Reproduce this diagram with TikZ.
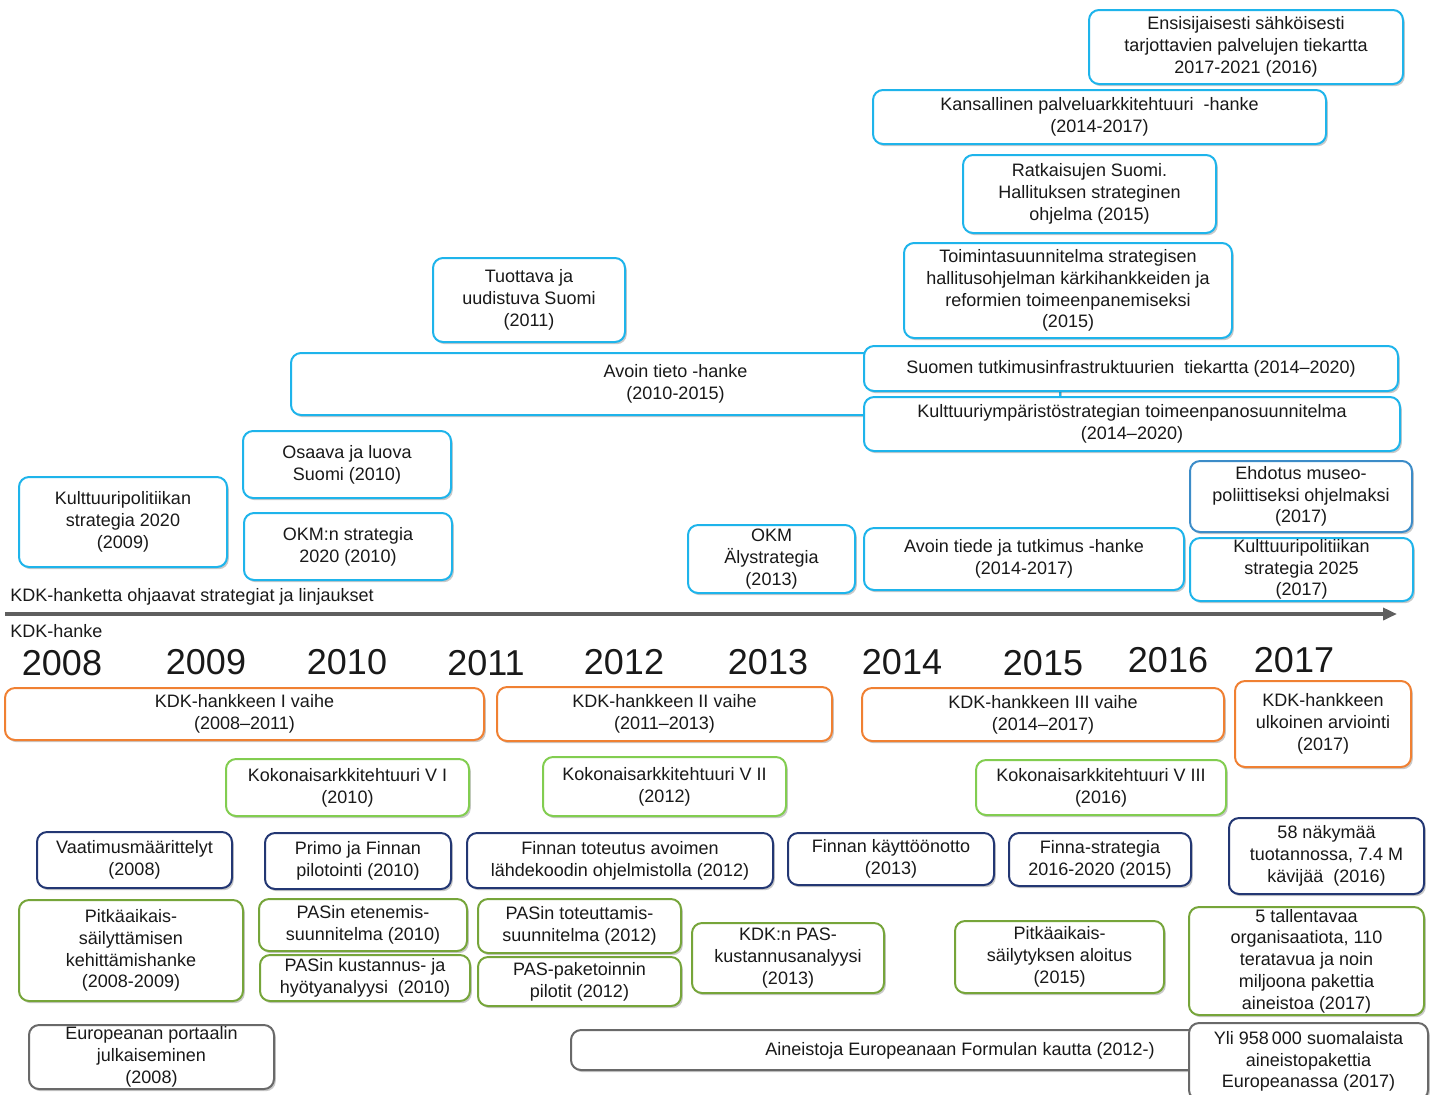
\documentclass[tikz,border=0pt]{standalone}
\usepackage{fontspec}
\setmainfont{Liberation Sans}
\usetikzlibrary{shadows,arrows.meta}
\definecolor{cyanB}{RGB}{30,180,235}
\definecolor{museoB}{RGB}{60,140,200}
\definecolor{orangeB}{RGB}{240,128,50}
\definecolor{lgreenB}{RGB}{130,205,80}
\definecolor{navyB}{RGB}{35,55,115}
\definecolor{greenB}{RGB}{118,165,58}
\definecolor{grayB}{RGB}{105,105,105}
\definecolor{txt}{RGB}{25,25,25}
\definecolor{axis}{RGB}{95,95,95}
\tikzset{
  box/.style={draw, rounded corners=5pt, line width=1pt, fill=white, inner sep=0pt,
    align=center, text=txt, font=\fontsize{9}{10.9}\selectfont,
    drop shadow={shadow xshift=0.9pt, shadow yshift=-1.1pt, fill=black!70, opacity=0.3}},
  cy/.style={draw=cyanB},
  mu/.style={draw=museoB},
  orb/.style={draw=orangeB},
  lg/.style={draw=lgreenB},
  nv/.style={draw=navyB},
  gr/.style={draw=greenB},
  gy/.style={draw=grayB},
  yr/.style={text=txt, font=\fontsize{18}{20}\selectfont, inner sep=0pt},
  lbl/.style={text=txt, font=\fontsize{9}{10.9}\selectfont, inner sep=0pt, anchor=west},
}
\newcommand\bx[7][]{\node[box,#1,minimum width={(#5-#3)*0.5pt},minimum height={(#6-#4)*0.5pt}] (#2) at ({(#3+#5)/2},{(#4+#6)/2}) {#7};}
\begin{document}
\begin{tikzpicture}[x=0.5pt,y=-0.5pt]
\useasboundingbox (0,0) rectangle (1433,1094);
% strategies (upper part)
\bx[cy]{ensi}{1089}{10}{1403}{84}{Ensisijaisesti sähköisesti\\tarjottavien palvelujen tiekartta\\2017-2021 (2016)}
\bx[cy]{kansal}{873}{90}{1326}{144}{Kansallinen palveluarkkitehtuuri \ -hanke\\(2014-2017)}
\bx[cy]{ratk}{963}{155}{1216}{233}{Ratkaisujen Suomi.\\Hallituksen strateginen\\ohjelma (2015)}
\bx[cy]{toim}{904}{243}{1232}{338}{Toimintasuunnitelma strategisen\\hallitusohjelman kärkihankkeiden ja\\reformien toimeenpanemiseksi\\(2015)}
\bx[cy]{tuott}{433}{258}{625}{342}{Tuottava ja\\uudistuva Suomi\\(2011)}
\bx[cy]{avtieto}{291}{353}{1060}{415}{Avoin tieto -hanke\\(2010-2015)}
\bx[cy]{tutk}{864}{346}{1398}{391}{Suomen tutkimusinfrastruktuurien \ tiekartta (2014–2020)}
\bx[cy]{kymp}{864}{397}{1400}{451}{Kulttuuriympäristöstrategian toimeenpanosuunnitelma\\(2014–2020)}
\bx[cy]{osaava}{243}{431}{451}{498}{Osaava ja luova\\Suomi (2010)}
\bx[cy]{okm}{244}{513}{452}{580}{OKM:n strategia\\2020 (2010)}
\bx[cy]{kp2020}{19}{477}{227}{567}{Kulttuuripolitiikan\\strategia 2020\\(2009)}
\bx[cy]{aly}{688}{525}{855}{593}{OKM\\Älystrategia\\(2013)}
\bx[cy]{avtiede}{864}{528}{1184}{590}{Avoin tiede ja tutkimus -hanke\\(2014-2017)}
\bx[mu]{museo}{1190}{461}{1412}{532}{Ehdotus museo-\\poliittiseksi ohjelmaksi\\(2017)}
\bx[cy]{kp2025}{1190}{538}{1413}{601}{Kulttuuripolitiikan\\strategia 2025\\(2017)}
% axis
\node[lbl] (lblstrat) at (10,597) {KDK-hanketta ohjaavat strategiat ja linjaukset};
\coordinate (axL) at (5,614);
\coordinate (axR) at (1397,614);
\draw[axis, line width=2pt, -{Triangle[length=7pt,width=6pt]}] (axL) -- (axR);
\node[lbl] (lblkdk) at (10,631) {KDK-hanke};
\node[yr] (y2008) at (62,663) {2008};
\node[yr] (y2009) at (206,662) {2009};
\node[yr] (y2010) at (347,662) {2010};
\node[yr] (y2011) at (486,663) {2011};
\node[yr] (y2012) at (624,662) {2012};
\node[yr] (y2013) at (768,662) {2013};
\node[yr] (y2014) at (902,662) {2014};
\node[yr] (y2015) at (1043,663) {2015};
\node[yr] (y2016) at (1168,660) {2016};
\node[yr] (y2017) at (1294,660) {2017};
% KDK phases
\bx[orb]{ph1}{5}{688}{484}{740}{KDK-hankkeen I vaihe\\(2008–2011)}
\bx[orb]{ph2}{497}{687}{832}{741}{KDK-hankkeen II vaihe\\(2011–2013)}
\bx[orb]{ph3}{862}{688}{1224}{741}{KDK-hankkeen III vaihe\\(2014–2017)}
\bx[orb]{arv}{1235}{681}{1411}{767}{KDK-hankkeen\\ulkoinen arviointi\\(2017)}
% enterprise architecture
\bx[lg]{ka1}{226}{759}{469}{816}{Kokonaisarkkitehtuuri V I\\(2010)}
\bx[lg]{ka2}{543}{757}{786}{816}{Kokonaisarkkitehtuuri V II\\(2012)}
\bx[lg]{ka3}{976}{760}{1226}{815}{Kokonaisarkkitehtuuri V III\\(2016)}
% Finna
\bx[nv]{vaat}{37}{832}{232}{888}{Vaatimusmäärittelyt\\(2008)}
\bx[nv]{primo}{265}{833}{451}{889}{Primo ja Finnan\\pilotointi (2010)}
\bx[nv]{fintot}{467}{833}{773}{888}{Finnan toteutus avoimen\\lähdekoodin ohjelmistolla (2012)}
\bx[nv]{finkay}{788}{833}{994}{885}{Finnan käyttöönotto\\(2013)}
\bx[nv]{finstr}{1009}{833}{1191}{886}{Finna-strategia\\2016-2020 (2015)}
\bx[nv]{nakym}{1229}{818}{1424}{894}{58 näkymää\\tuotannossa, 7.4 M\\kävijää \ (2016)}
% long-term preservation
\bx[gr]{pitk}{19}{900}{243}{1001}{Pitkäaikais-\\säilyttämisen\\kehittämishanke\\(2008-2009)}
\bx[gr]{paset}{259}{899}{467}{951}{PASin etenemis-\\suunnitelma (2010)}
\bx[gr]{pasku}{260}{955}{470}{1001}{PASin kustannus- ja\\hyötyanalyysi \ (2010)}
\bx[gr]{pasto}{478}{899}{681}{953}{PASin toteuttamis-\\suunnitelma (2012)}
\bx[gr]{paspa}{478}{957}{681}{1006}{PAS-paketoinnin\\pilotit (2012)}
\bx[gr]{kdkpas}{692}{923}{884}{993}{KDK:n PAS-\\kustannusanalyysi\\(2013)}
\bx[gr]{pital}{955}{921}{1164}{993}{Pitkäaikais-\\säilytyksen aloitus\\(2015)}
\bx[gr]{tallen}{1189}{907}{1424}{1015}{5 tallentavaa\\organisaatiota, 110\\teratavua ja noin\\miljoona pakettia\\aineistoa (2017)}
% Europeana
\bx[gy]{europ}{29}{1025}{274}{1089}{Europeanan portaalin\\julkaiseminen\\(2008)}
\bx[gy]{formula}{571}{1030}{1205}{1070}{}
\node[lbl, anchor=center] (formulatxt) at (960,1051) {Aineistoja Europeanaan Formulan kautta (2012-)};
\bx[gy]{yli}{1189}{1023}{1428}{1100}{Yli 958\,000 suomalaista\\aineistopakettia\\Europeanassa (2017)}
\end{tikzpicture}
\end{document}
